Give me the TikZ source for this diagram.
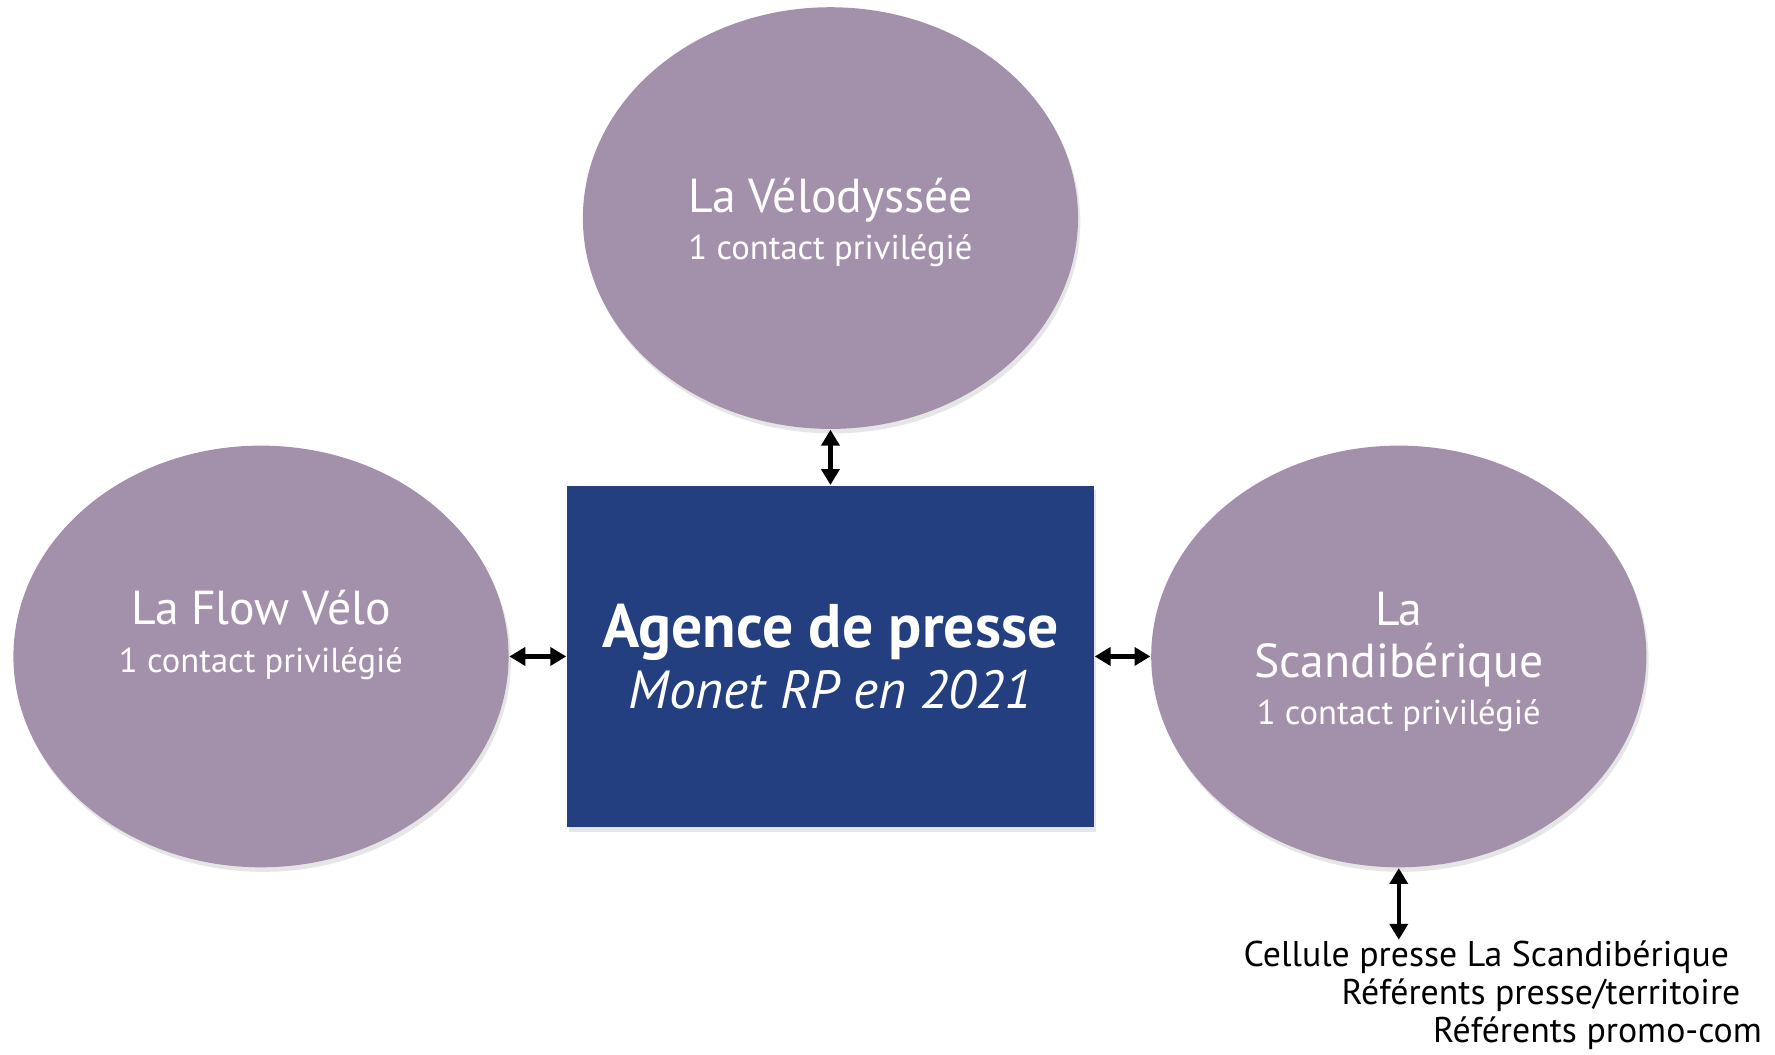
\documentclass[tikz,border=0pt]{standalone}
\usepackage{fontspec}
\setmainfont{PT Sans}
\usepackage{tikz}
\usetikzlibrary{arrows.meta}
\usetikzlibrary{shapes.geometric}
\usetikzlibrary{shadows}

\definecolor{mauve}{RGB}{163,145,171}
\definecolor{navy}{RGB}{35,63,128}

\begin{document}
\begin{tikzpicture}[x=0.01cm, y=-0.01cm,
  route/.style={ellipse, fill=mauve, minimum width=4.38cm, minimum height=3.73cm,
    drop shadow={opacity=0.2, shadow xshift=0.02cm, shadow yshift=-0.04cm}},
  nomtxt/.style={text=white, align=center, font=\fontsize{12}{13.5}\selectfont},
  celluletxt/.style={anchor=east, inner sep=0pt, font=\fontsize{9}{10}\selectfont},
  liaison/.style={{Triangle[length=4pt,width=4.5pt]}-{Triangle[length=4pt,width=4.5pt]}, line width=1.1pt, black}]
\useasboundingbox (0,0) rectangle (1571,933);

% les trois itinéraires
\node [route] (velo) at (735,193) {};
\node [route] (flow) at (231,581) {};
\node [route] (scandi) at (1238,581) {};
\node [nomtxt] (velotxt) at (735,197) {La Vélodyssée\\[-1.5pt]{\fontsize{8.7}{10}\selectfont 1 contact privilégié}};
\node [nomtxt] (flowtxt) at (231,562) {La Flow Vélo\\[-1.5pt]{\fontsize{8.7}{10}\selectfont 1 contact privilégié}};
\node [nomtxt] (scanditxt) at (1238,586) {La\\[-0.5pt]Scandibérique\\[-1.5pt]{\fontsize{8.7}{10}\selectfont 1 contact privilégié}};

% agence
\node [rectangle, fill=navy, minimum width=4.66cm, minimum height=3.02cm, text=white, align=center,
  drop shadow={opacity=0.2, shadow xshift=0.02cm, shadow yshift=-0.04cm}] (agence) at (735,581)
  {{\fontsize{15.5}{17}\selectfont\bfseries Agence de presse}\\[1.5pt]{\fontsize{13.5}{15}\selectfont\itshape Monet RP en 2021}};

% cellule presse
\node [celluletxt] (cellule) at (1531,847) {Cellule presse La Scandibérique};
\node [celluletxt] (referents) at (1541,881) {Référents presse/territoire};
\node [celluletxt] (promo) at (1560,914) {Référents promo-com};

\draw [liaison] (velo.south) to (agence.north);
\draw [liaison] (flow.east) to (agence.west);
\draw [liaison] (agence.east) to (scandi.west);
\draw [liaison] (scandi.south) to (scandi.south |- cellule.north);
\end{tikzpicture}
\end{document}
